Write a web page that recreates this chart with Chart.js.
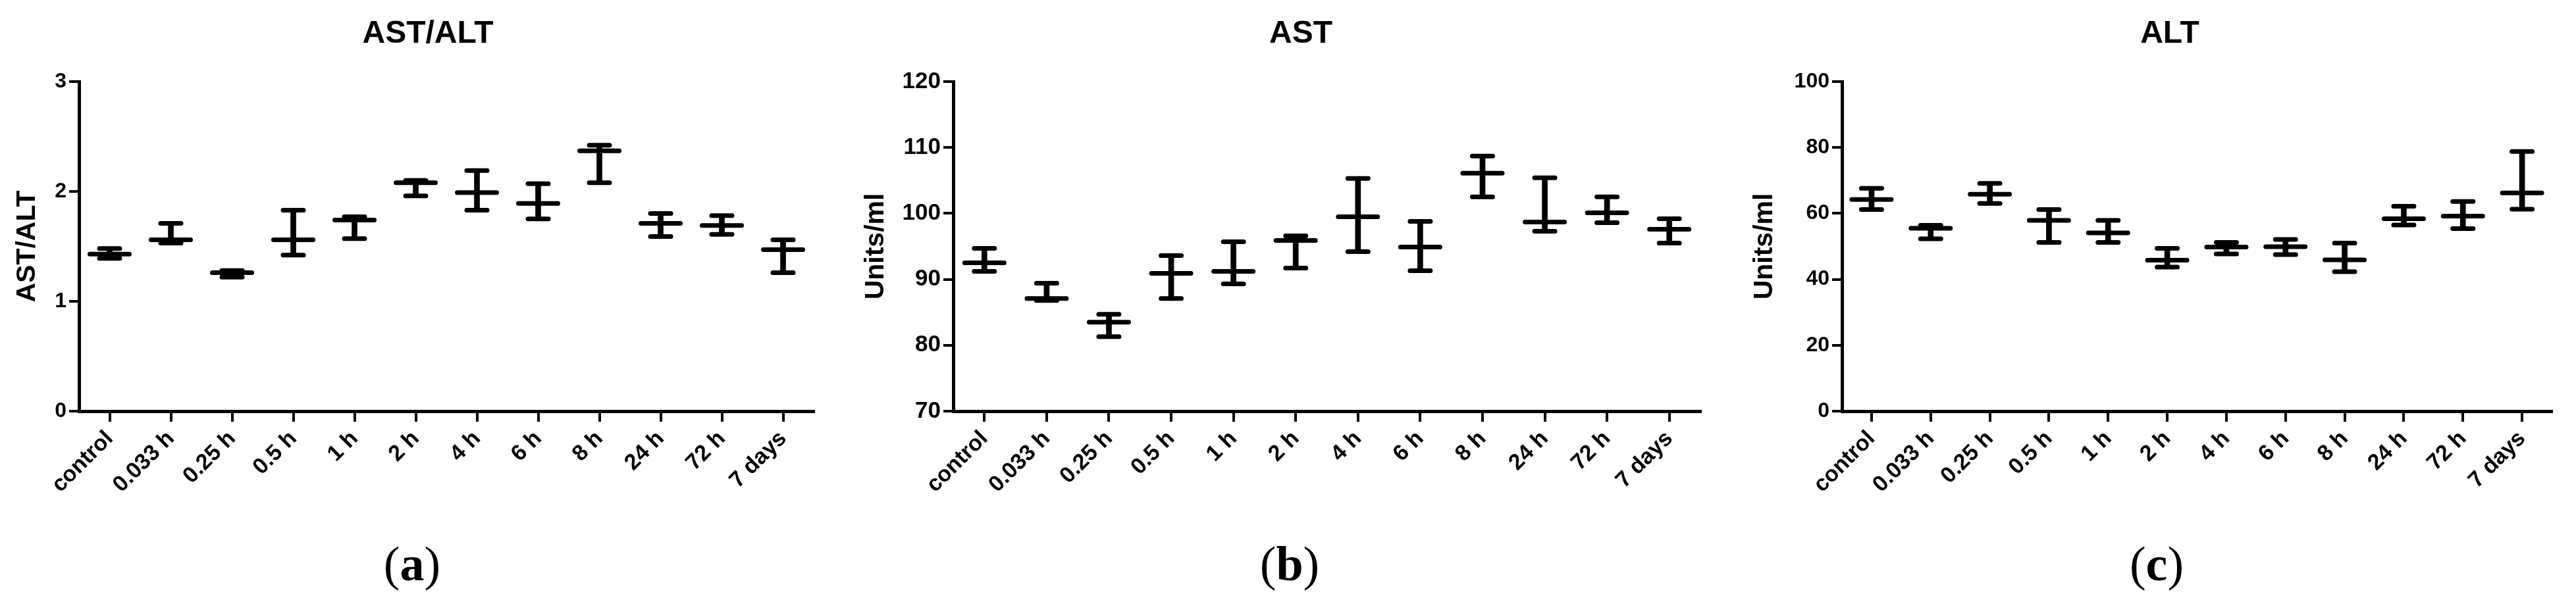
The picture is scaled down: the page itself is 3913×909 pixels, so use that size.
<!DOCTYPE html>
<html>
<head>
<meta charset="utf-8">
<script src="https://cdn.jsdelivr.net/npm/chart.js@4.4.1/dist/chart.umd.min.js"></script>
<style>
  body { margin: 0; background: #fff; }
  #wrap { position: relative; width: 3913px; height: 909px; overflow: hidden; }
  canvas { position: absolute; top: 0; }
  .ttl { position: absolute; top: 49px; transform: translate(-50%, -50%); font: bold 48px "Liberation Sans", Arial, sans-serif; line-height: 1; white-space: nowrap; }
  .lbl { position: absolute; top: 857px; transform: translate(-50%, -50%); font: 74px "Liberation Serif", "Times New Roman", serif; line-height: 1; }
</style>
</head>
<body>
<div id="wrap">
  <canvas id="chartA" width="1300" height="909" style="left:0px"></canvas>
  <canvas id="chartB" width="1320" height="909" style="left:1300px"></canvas>
  <canvas id="chartC" width="1263" height="909" style="left:2650px"></canvas>
  <div class="ttl" style="left:650px">AST/ALT</div>
  <div class="ttl" style="left:1976px">AST</div>
  <div class="ttl" style="left:3296px">ALT</div>
  <div class="lbl" style="left:626px">(<b>a</b>)</div>
  <div class="lbl" style="left:1959px">(<b>b</b>)</div>
  <div class="lbl" style="left:3276px">(<b>c</b>)</div>
</div>
<script>
// time points
const categories = ['control', '0.033 h', '0.25 h', '0.5 h', '1 h', '2 h', '4 h', '6 h', '8 h', '24 h', '72 h', '7 days'];

// (a) AST/ALT ratio: mean and error bar ends
const ratioMean = [1.43, 1.56, 1.26, 1.56, 1.74, 2.08, 1.99, 1.89, 2.37, 1.71, 1.69, 1.47];
const ratioLow  = [1.39, 1.53, 1.22, 1.42, 1.57, 1.96, 1.83, 1.75, 2.08, 1.59, 1.61, 1.26];
const ratioHigh = [1.48, 1.71, 1.28, 1.83, 1.77, 2.10, 2.19, 2.07, 2.42, 1.80, 1.78, 1.56];

// (b) AST, Units/ml
const astMean = [92.5, 87.1, 83.5, 90.9, 91.2, 95.9, 99.5, 94.9, 106.1, 98.7, 100.1, 97.6];
const astLow  = [91.2, 86.8, 81.3, 87.1, 89.3, 91.7, 94.2, 91.3, 102.5, 97.3, 98.6, 95.5];
const astHigh = [94.7, 89.4, 84.7, 93.6, 95.7, 96.6, 105.3, 98.8, 108.7, 105.4, 102.5, 99.2];

// (c) ALT, Units/ml
const altMean = [64.2, 55.5, 65.8, 57.9, 54.1, 45.8, 49.8, 49.9, 45.9, 58.4, 59.2, 66.2];
const altLow  = [61.2, 52.3, 63.0, 51.2, 51.2, 43.7, 47.7, 47.5, 42.3, 56.5, 55.4, 61.3];
const altHigh = [67.6, 56.4, 69.1, 61.2, 57.9, 49.4, 51.2, 52.1, 51.0, 62.2, 63.6, 78.8];

// y axis ticks per panel
const ratioTicks = [0, 1, 2, 3];
const astTicks = [70, 80, 90, 100, 110, 120];
const altTicks = [0, 20, 40, 60, 80, 100];

Chart.defaults.font.family = '"Liberation Sans", Arial, sans-serif';
Chart.defaults.font.weight = 'bold';
Chart.defaults.color = '#000';

// round ends on the whisker strokes
const roundCaps = {
    id: 'roundCaps',
    beforeDatasetsDraw(chart) { chart.ctx.lineCap = 'round'; },
    afterDatasetsDraw(chart) { chart.ctx.lineCap = 'butt'; }
};

function makePanel(id, mean, low, high, yTicks, yTitle, opt) {
    const capLine = {
        type: 'line', showLine: false, pointStyle: 'line',
        borderColor: '#000', borderWidth: 7, pointRadius: 15.5, pointHoverRadius: 15.5
    };
    return new Chart(document.getElementById(id), {
        data: {
            labels: categories,
            datasets: [
                {
                    type: 'bar',
                    data: low.map((v, i) => [v, high[i]]),
                    backgroundColor: '#000',
                    barThickness: 8,
                    borderWidth: 0
                },
                Object.assign({}, capLine, { data: high }),
                Object.assign({}, capLine, { data: low }),
                {
                    type: 'line', data: mean, showLine: false, pointStyle: 'line',
                    borderColor: '#000', borderWidth: 7, pointRadius: 30, pointHoverRadius: 30
                }
            ]
        },
        options: {
            responsive: false,
            animation: false,
            events: [],
            layout: { padding: { top: 124, bottom: 0, left: 0, right: opt.padRight } },
            plugins: { legend: { display: false }, tooltip: { enabled: false } },
            scales: {
                x: {
                    type: 'category',
                    offset: true,
                    grid: { display: true, offset: false, drawOnChartArea: false, color: '#000', lineWidth: 4, tickLength: 16 },
                    border: { display: true, color: '#000', width: 5 },
                    ticks: { autoSkip: false, maxRotation: 45, minRotation: 45, padding: 6, font: { size: 34 } },
                    afterFit(scale) { scale.height = 909 - 625; }
                },
                y: {
                    min: yTicks[0],
                    max: yTicks[yTicks.length - 1],
                    afterBuildTicks(scale) { scale.ticks = yTicks.map(v => ({ value: v })); },
                    grid: { display: true, drawOnChartArea: false, color: '#000', lineWidth: 4, tickLength: 15 },
                    border: { display: true, color: '#000', width: 5 },
                    ticks: { padding: 4, font: { size: opt.tickSize } },
                    title: { display: true, text: yTitle, font: { size: 41 }, padding: { top: opt.titlePad, bottom: 0 } },
                    afterFit(scale) { scale.width = opt.yWidth; }
                }
            }
        },
        plugins: [roundCaps]
    });
}

makePanel('chartA', ratioMean, ratioLow, ratioHigh, ratioTicks, 'AST/ALT', { padRight: 64, yWidth: 120, tickSize: 32, titlePad: 17 });
makePanel('chartB', astMean, astLow, astHigh, astTicks, 'Units/ml', { padRight: 27, yWidth: 148, tickSize: 35, titlePad: 6.5 });
makePanel('chartC', altMean, altLow, altHigh, altTicks, 'Units/ml', { padRight: 15, yWidth: 148, tickSize: 32, titlePad: 6.5 });
</script>
</body>
</html>
